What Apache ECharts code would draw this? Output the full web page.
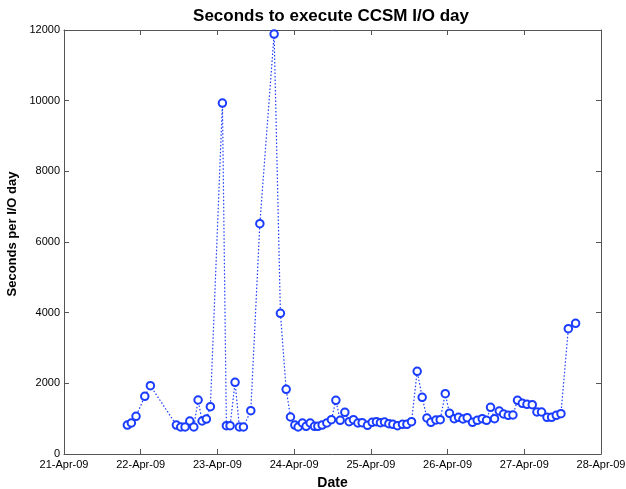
<!DOCTYPE html>
<html>
<head>
<meta charset="utf-8">
<script src="https://cdn.jsdelivr.net/npm/echarts@6/dist/echarts.min.js"></script>
<style>html,body{margin:0;padding:0;background:#fff}#c{width:626px;height:489px}</style>
</head>
<body>
<div id="c"></div>
<script>
// Days since 21-Apr-09 00:00
var dayOffsets = [0.826,0.878,0.939,1.053,1.126,1.465,1.522,1.578,1.640,1.692,1.748,1.800,1.856,1.908,
2.065,2.117,2.165,2.230,2.286,2.339,2.435,2.553,2.739,2.821,2.896,2.952,3.009,3.052,3.108,3.156,3.209,
3.265,3.309,3.365,3.426,3.486,3.544,3.600,3.661,3.717,3.773,3.831,3.887,3.956,4.017,4.073,4.125,4.178,
4.235,4.287,4.347,4.412,4.470,4.530,4.604,4.669,4.731,4.783,4.848,4.904,4.970,5.025,5.087,5.143,5.200,
5.256,5.325,5.387,5.452,5.508,5.560,5.612,5.674,5.730,5.791,5.852,5.912,5.974,6.035,6.104,6.165,6.225,
6.296,6.356,6.417,6.478,6.574,6.669];
var secondsPerDay = [820,877,1067,1633,1933,820,764,764,934,764,1528,934,990,1340,
9933,802,802,2028,764,764,1227,6518,11886,3980,1830,1047,820,764,877,783,877,
783,783,820,877,971,1519,953,1179,915,971,877,886,811,896,915,886,906,
858,840,801,840,840,915,2340,1604,1019,896,962,971,1707,1151,1000,1038,991,
1028,896,953,1000,953,1321,1000,1217,1132,1095,1104,1519,1434,1406,1396,1189,1189,
1038,1038,1095,1142,3546,3697];
var xTickLabels = ['21-Apr-09','22-Apr-09','23-Apr-09','24-Apr-09','25-Apr-09','26-Apr-09','27-Apr-09','28-Apr-09'];
var yTickLabels = ['0','2000','4000','6000','8000','10000','12000'];

var points = dayOffsets.map(function(d,i){return [d, secondsPerDay[i]];});
var font = 'Liberation Sans, Arial, Helvetica, sans-serif';
var axisCol = '#555';

var chart = echarts.init(document.getElementById('c'), null, {renderer:'canvas'});
chart.setOption({
  animation:false,
  backgroundColor:'#fff',
  title:{text:'Seconds to execute CCSM I/O day', left:326, top:3, textAlign:'center',
    textStyle:{fontFamily:font, fontSize:17, fontWeight:'bold', color:'#000'}},
  grid:{left:64, right:25, top:30, bottom:35, containLabel:false, outerBoundsMode:'none'},
  xAxis:[{
    type:'value', min:0, max:7, interval:1, position:'bottom',
    name:'Date', nameLocation:'middle', nameGap:22,
    nameTextStyle:{fontFamily:font, fontSize:14, fontWeight:'bold', color:'#000'},
    axisLine:{show:true, onZero:false, lineStyle:{color:axisCol, width:1}},
    axisTick:{show:true, inside:true, length:5, lineStyle:{color:axisCol}},
    axisLabel:{fontFamily:font, fontSize:11, color:'#000', margin:5,
      formatter:function(v){return xTickLabels[Math.round(v)];}},
    splitLine:{show:false}
  },{
    type:'value', min:0, max:7, interval:1, position:'top',
    axisLine:{show:true, onZero:false, lineStyle:{color:axisCol, width:1}},
    axisTick:{show:true, inside:true, length:5, lineStyle:{color:axisCol}},
    axisLabel:{show:false}, splitLine:{show:false}
  }],
  yAxis:[{
    type:'value', min:0, max:12000, interval:2000, position:'left',
    name:'Seconds per I/O day', nameLocation:'middle', nameGap:25, nameRotate:90,
    nameTextStyle:{fontFamily:font, fontSize:13, fontWeight:'bold', color:'#000', padding:[10,0,0,16]},
    axisLine:{show:true, onZero:false, lineStyle:{color:axisCol, width:1}},
    axisTick:{show:true, inside:true, length:5, lineStyle:{color:axisCol}},
    axisLabel:{fontFamily:font, fontSize:11, color:'#000', margin:4,
      formatter:function(v){return yTickLabels[Math.round(v/2000)];}},
    splitLine:{show:false}
  },{
    type:'value', min:0, max:12000, interval:2000, position:'right',
    axisLine:{show:true, onZero:false, lineStyle:{color:axisCol, width:1}},
    axisTick:{show:true, inside:true, length:5, lineStyle:{color:axisCol}},
    axisLabel:{show:false}, splitLine:{show:false}
  }],
  series:[{
    type:'line', data:points, xAxisIndex:0, yAxisIndex:0,
    lineStyle:{color:'#1a3cff', width:1.2, type:[1.5,2]},
    symbol:'emptyCircle', symbolSize:7.5,
    itemStyle:{color:'#1a3cff', borderColor:'#1a3cff', borderWidth:1.6},
    emphasis:{disabled:true}
  }]
});
</script>
</body>
</html>
